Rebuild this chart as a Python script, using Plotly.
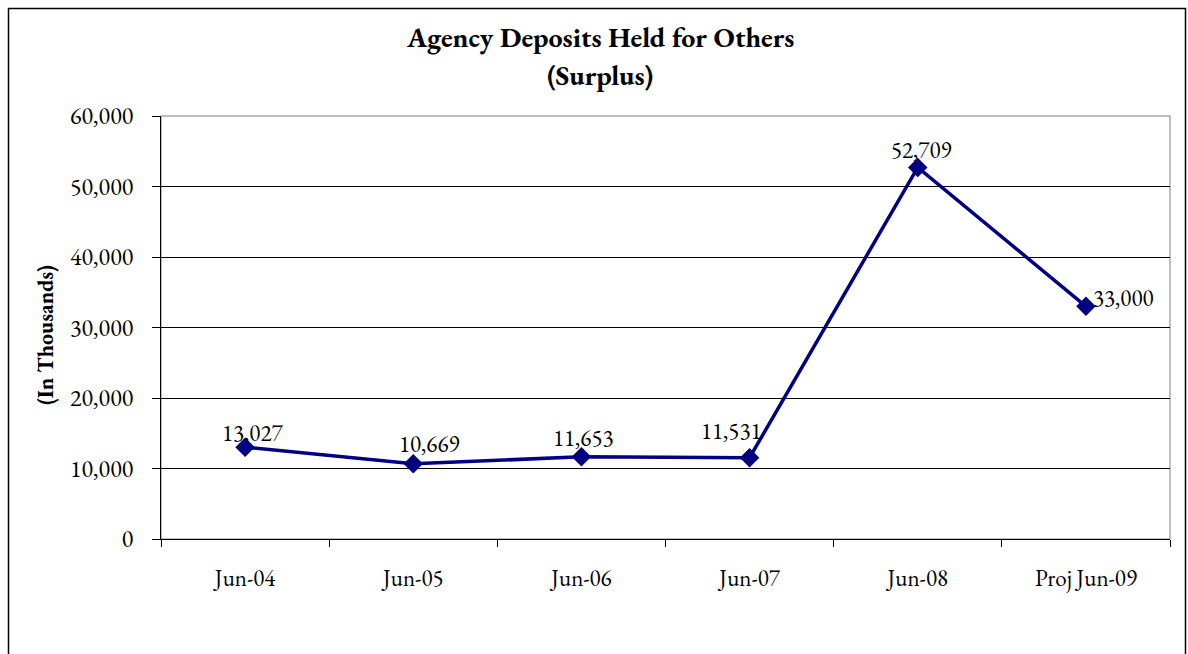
import plotly.graph_objects as go

categories = ["Jun-04", "Jun-05", "Jun-06", "Jun-07", "Jun-08", "Proj Jun-09"]
values = [13027, 10669, 11653, 11531, 52709, 33000]
labels = ["13,027", "10,669", "11,653", "11,531", "52,709", "33,000"]

# label offsets (pixels) – styling only
label_dx = [7, 16, 2, -18, 4, 38]
label_dy = [14, 20, 19, 27, 17, 8]

FONT = "Garamond, 'EB Garamond', 'Liberation Serif', 'DejaVu Serif', serif"

W, H = 1188, 654
L, R, T, B = 161, 1170, 116, 539
pw, ph = R - L, B - T

def px(x):
    return (x - L) / pw

def py(y):
    return (B - y) / ph

fig = go.Figure()
fig.add_trace(go.Scatter(
    x=categories, y=values, mode="lines+markers",
    line=dict(color="#000080", width=3.5),
    marker=dict(symbol="diamond", size=15, color="#000080"),
    cliponaxis=False, showlegend=False,
))

annotations = [
    dict(text="<b>Agency Deposits Held for Others</b>", xref="paper", yref="paper",
         x=px(600), y=py(37), showarrow=False, font=dict(size=28), xanchor="center", yanchor="middle"),
    dict(text="<b>(Surplus)</b>", xref="paper", yref="paper",
         x=px(600), y=py(75), showarrow=False, font=dict(size=28), xanchor="center", yanchor="middle"),
    dict(text="<b>(In Thousands)</b>", xref="paper", yref="paper",
         x=px(45), y=py(335), showarrow=False, textangle=-90, font=dict(size=22),
         xanchor="center", yanchor="middle"),
]
for c, v, t, dx, dy in zip(categories, values, labels, label_dx, label_dy):
    annotations.append(dict(
        x=c, y=v, xref="x", yref="y", text=t, showarrow=False,
        xshift=dx, yshift=dy, font=dict(size=23, color="#000000"),
        xanchor="center", yanchor="middle",
    ))

fig.update_layout(
    width=W, height=H,
    margin=dict(l=L, r=W - R, t=T, b=H - B),
    paper_bgcolor="white", plot_bgcolor="white",
    font=dict(family=FONT, size=23, color="#000000"),
    xaxis=dict(
        type="category", tickson="boundaries", ticks="outside", ticklen=7,
        tickcolor="#000000", showline=True, linecolor="#000000", linewidth=1,
        showgrid=False, tickfont=dict(size=23), range=[-0.5, 5.5],
        ticklabelstandoff=18,
    ),
    yaxis=dict(
        range=[0, 60000], dtick=10000, tickformat=",d",
        ticks="outside", ticklen=8, tickcolor="#000000",
        showline=True, linecolor="#000000", linewidth=1,
        showgrid=True, gridcolor="#000000", gridwidth=1,
        zeroline=False, tickfont=dict(size=24), ticklabelstandoff=14,
    ),
    shapes=[
        dict(type="rect", xref="paper", yref="paper", x0=0, x1=1, y0=0, y1=1,
             line=dict(color="#808080", width=1), layer="below"),
        dict(type="rect", xref="paper", yref="paper",
             x0=px(8.5), x1=px(1185.5), y0=py(8.5), y1=py(670),
             line=dict(color="#000000", width=1.5)),
    ],
    annotations=annotations,
)

fig.write_html("out.html")
